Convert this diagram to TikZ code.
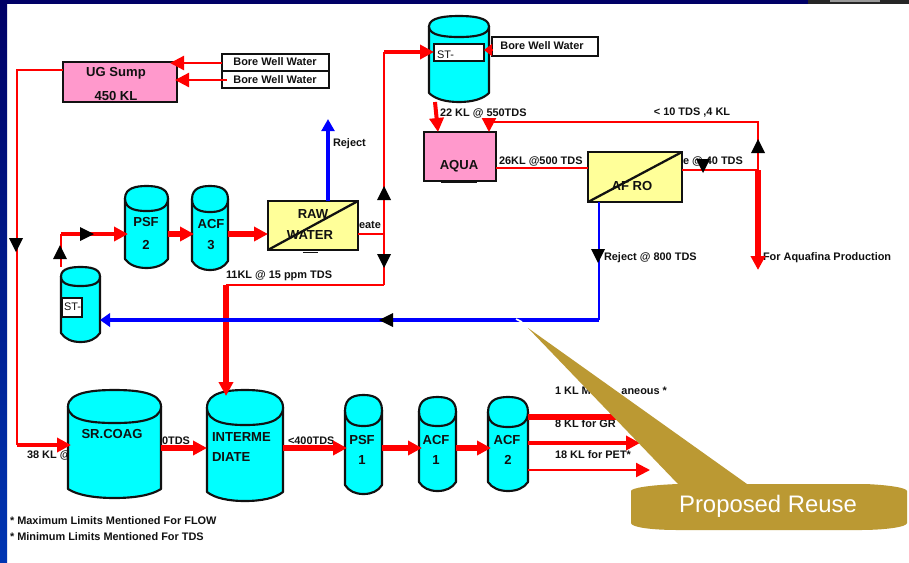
\documentclass[tikz,border=0pt]{standalone}
\usepackage{fontspec}
\setmainfont{Liberation Sans}
\usetikzlibrary{arrows.meta}
\definecolor{rd}{HTML}{FF0000}
\definecolor{bl}{HTML}{0000FF}
\definecolor{cy}{HTML}{00FFFF}
\definecolor{pk}{HTML}{FF99CC}
\definecolor{yl}{HTML}{FFFF99}
\definecolor{gd}{HTML}{BB9933}
\definecolor{ink}{HTML}{111111}
\tikzset{
  x=0.75pt,y=-0.75pt,
  lab/.style={font=\fontsize{8.2}{10}\bfseries\selectfont,text=ink,inner sep=0pt,outer sep=0pt},
  big/.style={font=\fontsize{9.8}{11}\bfseries\selectfont,text=ink,inner sep=0pt,outer sep=0pt},
  box/.style={draw=ink,line width=1.7pt,inner sep=0pt,outer sep=0pt,anchor=north west},
  tag/.style={draw=ink,line width=1.6pt,fill=white,inner sep=0pt,outer sep=0pt,anchor=north west},
  tk/.style={draw=ink,line width=1.6pt,fill=cy,line join=round},
  hd/.style={-{Triangle[length=10.5pt,width=10.5pt]}},
  rt/.style={draw=rd,line width=1.7pt,hd},
  rm/.style={draw=rd,line width=3pt,hd},
  rk/.style={draw=rd,line width=4.2pt,hd},
  rtn/.style={draw=rd,line width=1.7pt},
  rmn/.style={draw=rd,line width=3pt},
  rkn/.style={draw=rd,line width=4.2pt},
}
\newcommand{\tank}[6]{%
  \pgfmathsetmacro{\tw}{(#4-#2)*0.75}%
  \pgfmathsetmacro{\th}{(#5-#3)*0.75}%
  \pgfmathsetmacro{\xm}{(#2+#4)/2}%
  \pgfmathsetmacro{\ym}{(#3+#5)/2}%
  \pgfmathsetmacro{\ye}{(#3+#6)/2}%
  \pgfmathsetmacro{\xa}{#2+0.10*(#4-#2)}%
  \pgfmathsetmacro{\xb}{#2+0.28*(#4-#2)}%
  \pgfmathsetmacro{\xc}{#2+0.72*(#4-#2)}%
  \pgfmathsetmacro{\xd}{#2+0.90*(#4-#2)}%
  \pgfmathsetmacro{\yk}{#5-9}%
  \pgfmathsetmacro{\yl}{#5-3}%
  \pgfmathsetmacro{\yt}{#3+0.06*(#6-#3)}%
  \pgfmathsetmacro{\yb}{#6-0.06*(#6-#3)}%
  \node[inner sep=0pt,outer sep=0pt,minimum width=\tw pt,minimum height=\th pt] (#1) at (\xm,\ym) {};
  \path[tk] (#2,\ye) -- (#2,\yk) .. controls (\xa,\yl) and (\xb,#5) .. (\xm,#5)
     .. controls (\xc,#5) and (\xd,\yl) .. (#4,\yk) -- (#4,\ye) -- cycle;
  \path[tk] (#2,\ye) .. controls (#2,\yt) and (\xb,#3) .. (\xm,#3)
     .. controls (\xc,#3) and (#4,\yt) .. (#4,\ye)
     .. controls (#4,\yb) and (\xc,#6) .. (\xm,#6)
     .. controls (\xb,#6) and (#2,\yb) .. (#2,\ye) -- cycle;
}
\newcommand{\flowmark}[3]{\fill[black,shift={(#1,#2)},rotate=#3] (0,0) -- (-14,-7) -- (-14,7) -- cycle;}
\begin{document}
\begin{tikzpicture}
\useasboundingbox (0,0) rectangle (909,562);
% slide background
\fill[white] (0,0) rectangle (909,562);
\shade[top color=blue!40!black,bottom color=blue!70!cyan!70!black] (0,0) rectangle (7,562);
\fill[blue!40!black] (0,0) rectangle (909,4);
\fill[black!85] (808,0) rectangle (909,4);
\fill[black!40] (830,0) rectangle (880,2);

% free ends and junctions
\coordinate (jS) at (17,70);
\coordinate (jSb) at (17,445);
\coordinate (jT) at (61,234);
\coordinate (jP) at (384,234);
\coordinate (jU) at (384,52);
\coordinate (jD) at (384,285);
\coordinate (jI) at (226,285);
\coordinate (jA) at (758,170);
\coordinate (jB) at (758,122);
\coordinate (eAq) at (758,270);
\coordinate (eRej) at (328,119);
\coordinate (jR) at (599,320);
\coordinate (o1) at (640,417);
\coordinate (o2) at (640,443);
\coordinate (o3) at (650,470);

% labels that lie under the shapes
\node[lab,anchor=west] (t1) at (359,225) {eate};
\node[lab,anchor=west] (t2) at (499,161) {26KL  @500 TDS};
\node[lab,anchor=west] (t3) at (683,161) {e @ 40 TDS};
\node[lab,anchor=west] (t4) at (27,455) {38 KL @};
\node[lab,anchor=west] (t5) at (162,441) {0TDS};
\node[lab,anchor=west] (t6) at (288,441) {<400TDS};
\node[lab,anchor=west] (t7) at (555,391) {1 KL M};
\node[lab,anchor=east] (t8) at (667,391) {aneous *};
\node[lab,anchor=west] (t9) at (555,424) {8 KL for GR};
\node[lab,anchor=west] (t10) at (555,455) {18 KL for PET*};
\node[lab,anchor=west] (t11) at (226,276) {11KL @ 15 ppm TDS};
\node[lab,anchor=west] (t12) at (333,144) {Reject};
\node[lab,anchor=west] (t13) at (440,113) {22 KL @ 550TDS};
\node[lab] (t14) at (692,113) {< 10 TDS ,4 KL};
\node[lab,anchor=west] (t15) at (604,258) {Reject @ 800 TDS};
\node[lab,anchor=west] (t16) at (763,258) {For Aquafina Production};
\node[lab,anchor=west] (t17) at (10,521) {* Maximum Limits Mentioned For FLOW};
\node[lab,anchor=west] (t18) at (10,537) {* Minimum Limits Mentioned For TDS};

% boxes and tanks
\node[box,fill=pk,minimum width=85.5pt,minimum height=30pt] (ug) at (63,62) {};
\node[big] (ugt1) at (116,73) {UG Sump};
\node[big] (ugt2) at (116,96) {450 KL};
\node[tag,minimum width=80pt,minimum height=12.7pt] (bw1) at (222,54) {};
\node[tag,minimum width=80pt,minimum height=12.7pt] (bw2) at (222,71) {};
\node[lab] (bw1t) at (275,62) {Bore Well Water};
\node[lab] (bw2t) at (275,79.5) {Bore Well Water};
\node[tag,minimum width=79.5pt,minimum height=14pt] (bw3) at (492,37) {};
\node[lab] (bw3t) at (542,45.5) {Bore Well Water};

\tank{psf2}{125}{186}{168}{268}{211}
\tank{acf3}{192}{186}{228}{270}{212}
\tank{st2}{61}{267}{100}{342}{286}
\tank{st1}{429}{16}{489}{102}{37}
\tank{coag}{68}{390}{161}{498}{423}
\tank{inter}{207}{390}{283}{501}{425}
\tank{psf1}{345}{395}{382}{494}{426}
\tank{acf1}{419}{397}{456}{491}{426}
\tank{acf2}{488}{397}{528}{491}{427}

\node[big] (a1) at (146,222) {PSF};
\node[big] (a2) at (146,245) {2};
\node[big] (a3) at (211,224) {ACF};
\node[big] (a4) at (211,245) {3};
\node[big] (a5) at (112,434) {SR.COAG};
\node[big,anchor=west] (a6) at (212,437) {INTERME};
\node[big,anchor=west] (a7) at (212,457) {DIATE};
\node[big] (a8) at (362,440) {PSF};
\node[big] (a9) at (362,460) {1};
\node[big] (a10) at (436,440) {ACF};
\node[big] (a11) at (436,460) {1};
\node[big] (a12) at (507,440) {ACF};
\node[big] (a13) at (508,460) {2};

\node[tag,minimum width=37.5pt,minimum height=12.7pt] (sta) at (434,44) {};
\node[lab,font=\fontsize{8.2}{10}\selectfont,anchor=west] (stat) at (437,55) {ST-};
\node[tag,minimum width=15pt,minimum height=14pt] (stb) at (62,298) {};
\node[lab,font=\fontsize{8.2}{10}\selectfont,anchor=west] (stbt) at (64,307) {ST-};

\node[box,fill=pk,minimum width=54pt,minimum height=36.7pt] (aqua) at (424,132) {};
\node[big] (aquat) at (459,166) {AQUA};
\draw[ink,line width=0.7pt] (441,182.5) -- (477,182.5);

\node[box,fill=yl,minimum width=67.5pt,minimum height=36.7pt] (raw) at (268,201) {};
\draw[ink,line width=1.7pt] (raw.south west) -- (raw.north east);
\node[big] (rawt1) at (313,214) {RAW};
\node[big] (rawt2) at (310,235) {WATER};
\draw[ink,line width=0.7pt] (303,252.5) -- (318,252.5);

\node[box,fill=yl,minimum width=70.5pt,minimum height=37.5pt] (afro) at (588,152) {};
\draw[ink,line width=1.7pt] (afro.south west) -- (afro.north east);
\node[big] (afrot) at (632,186) {AF RO};

% connectors
\coordinate (eU1) at (170,63);
\coordinate (eU2) at (175,80);
\coordinate (sB2) at (227,80);
\coordinate (eSt) at (434,52);
\coordinate (eIn) at (226,396);
\draw[rt] (bw1.west |- eU1) -- (eU1);
\draw[rt] (sB2) -- (eU2);
\draw[rtn] (ug.west |- jS) -- (jS) -- (jSb);
\draw[rm] (jSb) -- (71,445);
\draw[rtn] (st2.north west) -- (jT);
\draw[rm] (jT) -- (128,234);
\draw[rk] (psf2.east |- jT) -- (194,234);
\draw[rk] (acf3.east |- jT) -- (raw.west |- jT);
\draw[rtn] (raw.east |- jP) -- (jP);
\draw[rtn,line width=2pt] (jU) -- (jD);
\draw[rm] (jU) -- (eSt);
\draw[rtn] (jD) -- (jI);
\draw[rk] (jI) -- (eIn);
\draw[draw=bl,line width=3.6pt,-{Triangle[length=9pt,width=9.5pt]}] (raw.north -| eRej) -- (eRej);
\draw[rm] (435,102) -- (438,132);
\draw[rtn] (aqua.east |- 0,168) -- (afro.west |- 0,168);
\draw[rtn] (afro.east |- jA) -- (jA) -- (jB) -- (489,122);
\draw[rt] (489,122) -- (489,132);
\draw[rk] (jA) -- (eAq);
\draw[draw=bl,line width=1.7pt] (afro.south -| jR) -- (jR);
\draw[draw=bl,line width=3.6pt,-{Triangle[length=7.5pt,width=10pt]}] (jR) -- (st2.east |- jR);
\draw[rk] (coag.east |- 0,448) -- (inter.west |- 0,448);
\draw[rk] (inter.east |- 0,448) -- (347,448);
\draw[rk] (psf1.east |- 0,448) -- (422,448);
\draw[rk] (acf1.east |- 0,448) -- (491,448);
\draw[rkn] (acf2.east |- o1) -- (o1);
\draw[rm] (acf2.east |- o2) -- (o2);
\draw[rt] (acf2.east |- o3) -- (o3);
% arrow from the Bore Well box to the top tank
\draw[draw=rd,line width=0.8pt,-{Triangle[length=6pt,width=9pt]}] (bw3.west |- 0,50) -- (484,50);

% black flow marks
\flowmark{16}{252}{-90}
\flowmark{60}{245}{90}
\flowmark{94}{234}{0}
\flowmark{384}{186}{90}
\flowmark{384}{268}{-90}
\flowmark{379}{320}{180}
\flowmark{703}{173}{-90}
\flowmark{758}{139}{90}
\flowmark{598}{263}{-90}

% callout
\path[fill=gd] (678,484) -- (528,328) -- (747,484) -- (865,484)
  .. controls (890,485) and (907,488) .. (907,491) -- (907,523)
  .. controls (907,527) and (885,530) .. (860,530) -- (678,530)
  .. controls (650,530) and (631,527) .. (631,523) -- (631,491)
  .. controls (631,488) and (650,485) .. (678,484) -- cycle;
\node[font=\fontsize{17.9}{20}\selectfont,text=white,inner sep=0pt] (prop) at (768,506) {Proposed Reuse};
\draw[white,line width=1.2pt] (516,319) -- (522,322);
\end{tikzpicture}
\end{document}
